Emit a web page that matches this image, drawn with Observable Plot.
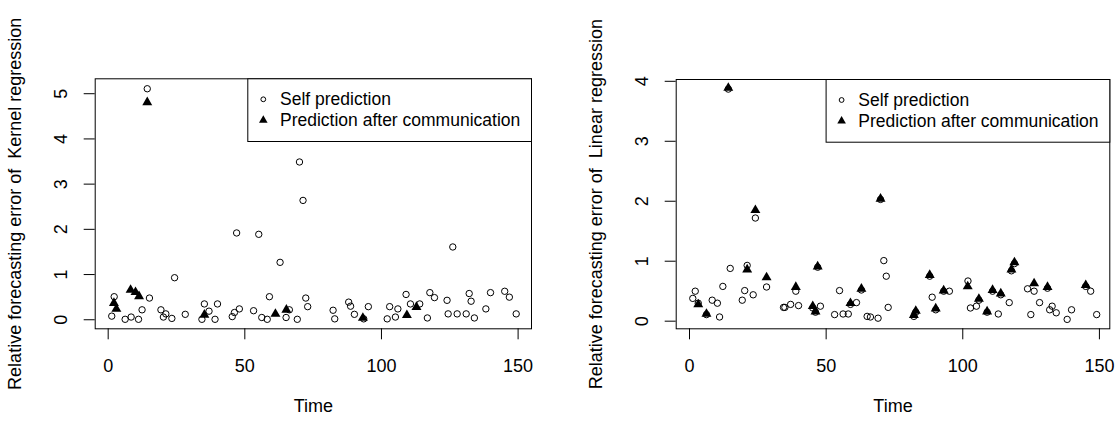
<!DOCTYPE html>
<html><head><meta charset="utf-8">
<script src="https://cdn.jsdelivr.net/npm/d3@7"></script>
<script src="https://cdn.jsdelivr.net/npm/@observablehq/plot@0.6"></script>
<style>
body{margin:0;background:#fff;}
#wrap{display:flex;width:1120px;height:426px;}
svg{font-family:"Liberation Sans",Arial,Helvetica,sans-serif;}
</style></head><body><div id="wrap"></div>
<script>
// ---- Kernel regression panel ----
const kernelSelfTime  = [1.3,2.2,6.2,8.4,11.1,12.4,14.3,15.1,19.3,20.2,21.1,23.3,24.3,28.2,34.3,35.2,36.9,39.1,40.0,45.4,46.2,47.0,48.0,53.2,55.1,56.2,58.2,59.0,62.9,65.1,66.3,69.2,70.0,71.3,72.3,73.0,82.3,82.9,88.0,88.7,90.1,93.5,95.2,102.1,103.0,105.1,106.0,109.0,110.6,114.0,116.8,117.7,119.4,124.0,124.4,126.1,127.7,131.0,132.1,132.8,134.0,138.2,139.9,145.1,146.8,149.3];
const kernelSelfError = [0.08,0.51,0.01,0.06,0.01,0.22,5.11,0.48,0.22,0.06,0.13,0.03,0.93,0.12,0.01,0.35,0.19,0.01,0.35,0.07,0.16,1.92,0.24,0.20,1.89,0.05,0.01,0.51,1.27,0.05,0.22,0.01,3.49,2.64,0.48,0.29,0.21,0.02,0.39,0.30,0.12,0.02,0.29,0.02,0.29,0.06,0.24,0.56,0.35,0.35,0.04,0.60,0.49,0.43,0.13,1.61,0.13,0.13,0.58,0.41,0.04,0.24,0.60,0.63,0.50,0.13];
const kernelCommTime  = [2.1,3.0,8.2,10.0,11.3,14.3,35.2,61.2,65.2,93.2,109.3,112.8];
const kernelCommError = [0.37,0.24,0.66,0.61,0.52,4.81,0.11,0.13,0.22,0.04,0.10,0.28];

// ---- Linear regression panel ----
const linearSelfTime  = [1.2,2.1,3.2,6.2,8.3,10.2,11.0,12.2,14.2,14.9,19.3,20.2,21.1,23.3,24.1,28.2,34.4,34.9,37.0,38.9,39.9,45.1,46.1,46.9,47.9,53.1,54.9,56.2,58.1,58.9,61.1,62.9,65.0,66.2,69.0,69.9,71.1,72.0,72.7,82.1,82.8,87.9,88.8,90.1,93.0,95.1,101.9,102.8,105.0,105.9,108.9,110.9,113.0,113.9,117.0,117.8,118.9,123.7,124.9,126.1,128.1,131.0,131.8,132.7,134.2,138.2,139.8,145.0,146.8,149.0];
const linearSelfError = [0.38,0.50,0.30,0.11,0.35,0.30,0.07,0.58,3.87,0.88,0.35,0.51,0.93,0.44,1.72,0.57,0.23,0.23,0.28,0.50,0.26,0.22,0.15,0.90,0.25,0.11,0.51,0.12,0.12,0.28,0.31,0.52,0.08,0.07,0.05,2.03,1.01,0.75,0.23,0.08,0.15,0.75,0.40,0.19,0.50,0.50,0.67,0.22,0.25,0.35,0.15,0.50,0.12,0.44,0.31,0.84,0.96,0.54,0.11,0.50,0.31,0.55,0.19,0.25,0.14,0.03,0.19,0.58,0.50,0.11];
const linearCommTime  = [3.2,6.2,14.2,21.1,24.1,28.2,38.9,45.1,46.1,46.9,58.9,62.9,69.9,82.1,82.8,87.9,90.1,93.0,101.8,105.9,108.9,110.9,113.9,117.8,118.9,126.1,131.0,145.0];
const linearCommError = [0.28,0.12,3.89,0.86,1.85,0.73,0.57,0.25,0.16,0.91,0.30,0.54,2.04,0.10,0.17,0.77,0.21,0.51,0.58,0.37,0.16,0.52,0.46,0.86,0.98,0.63,0.57,0.60];

const xTicks = [0, 50, 100, 150];
const kernelYTicks = [0, 1, 2, 3, 4, 5];
const linearYTicks = [0, 1, 2, 3, 4];
const xLabel = "Time";
const legendLabels = ["Self prediction", "Prediction after communication"];
const kernelYLabel = "Relative forecasting error of  Kernel regression";
const linearYLabel = "Relative forecasting error of  Linear regression";

const FONT = '"Liberation Sans", Arial, Helvetica, sans-serif';

function panel(o) {
  const self = o.selfT.map((t, i) => ({t, e: o.selfE[i]}));
  const comm = o.commT.map((t, i) => ({t, e: o.commE[i]}));
  const W = 560, H = 426;
  const frameW = W - o.ml - o.mr;
  const chart = Plot.plot({
    width: W, height: H,
    marginLeft: o.ml, marginRight: o.mr, marginTop: o.mt, marginBottom: o.mb,
    x: {domain: o.xDomain},
    y: {domain: o.yDomain},
    style: {fontSize: "18px", fontFamily: FONT, background: "white", color: "black", overflow: "visible"},
    marks: [
      Plot.axisX({ticks: xTicks, tickSize: 11, tickPadding: 19, tickFormat: d => String(d), label: null, fontSize: 18, stroke: "black"}),
      Plot.tickY(o.yTicks, {y: d => d, stroke: "black", strokeWidth: 1, insetLeft: -11, insetRight: frameW}),
      Plot.axisY({ticks: o.yTicks, tickSize: 0, tickPadding: 34, tickFormat: d => String(d), rotate: -90, textAnchor: "middle", label: null, fontSize: 18}),
      Plot.text([o.ylabel], {frameAnchor: "left", textAnchor: "middle", rotate: -90, dx: -80, fontSize: 18, fill: "black"}),
      Plot.text([xLabel], {frameAnchor: "bottom", dy: 83.4, fontSize: 18, fill: "black"}),
      Plot.dot(self, {x: "t", y: "e", r: 3.2, stroke: "black", strokeWidth: 1, fill: "none"}),
      Plot.dot(comm, {x: "t", y: "e", symbol: "triangle", r: 3.7, fill: "black", stroke: "none"}),
      Plot.frame({stroke: "black", strokeWidth: 1})
    ]
  });
  const svg = d3.select(chart);
  // legend (top-right inside the plot box)
  const right = W - o.mr, top = o.mt;
  const bw = 283.7, bh = 62.7, bl = right - bw;
  const g = svg.append("g").attr("font-family", FONT).attr("font-size", 17.5)
    .attr("text-anchor", "start");
  g.append("rect").attr("x", bl + 0.5).attr("y", top + 0.5).attr("width", bw).attr("height", bh)
    .attr("fill", "white").attr("stroke", "black");
  g.append("circle").attr("cx", bl + 16).attr("cy", top + 21).attr("r", 2.4)
    .attr("fill", "none").attr("stroke", "black");
  g.append("path").attr("d", d3.symbol(d3.symbolTriangle, 32)())
    .attr("transform", `translate(${bl + 16},${top + 42})`).attr("fill", "black");
  legendLabels.forEach((lab, i) => {
    g.append("text").attr("x", bl + 32.7).attr("y", top + 21 + i * 21).attr("dy", "0.35em")
      .attr("text-anchor", "start").attr("fill", "black").text(lab);
  });
  return chart;
}

const wrap = document.getElementById("wrap");
wrap.append(panel({
  selfT: kernelSelfTime, selfE: kernelSelfError, commT: kernelCommTime, commE: kernelCommError,
  yTicks: kernelYTicks, ylabel: kernelYLabel,
  xDomain: [-4.75, 154.9], yDomain: [-0.2, 5.33],
  ml: 94.7, mr: 29, mt: 78.3, mb: 97.7
}));
wrap.append(panel({
  selfT: linearSelfTime, selfE: linearSelfError, commT: linearCommTime, commE: linearCommError,
  yTicks: linearYTicks, ylabel: linearYLabel,
  xDomain: [-4.87, 153.8], yDomain: [-0.127, 4.03],
  ml: 115.7, mr: 10.7, mt: 79, mb: 97.7
}));
</script></body></html>
